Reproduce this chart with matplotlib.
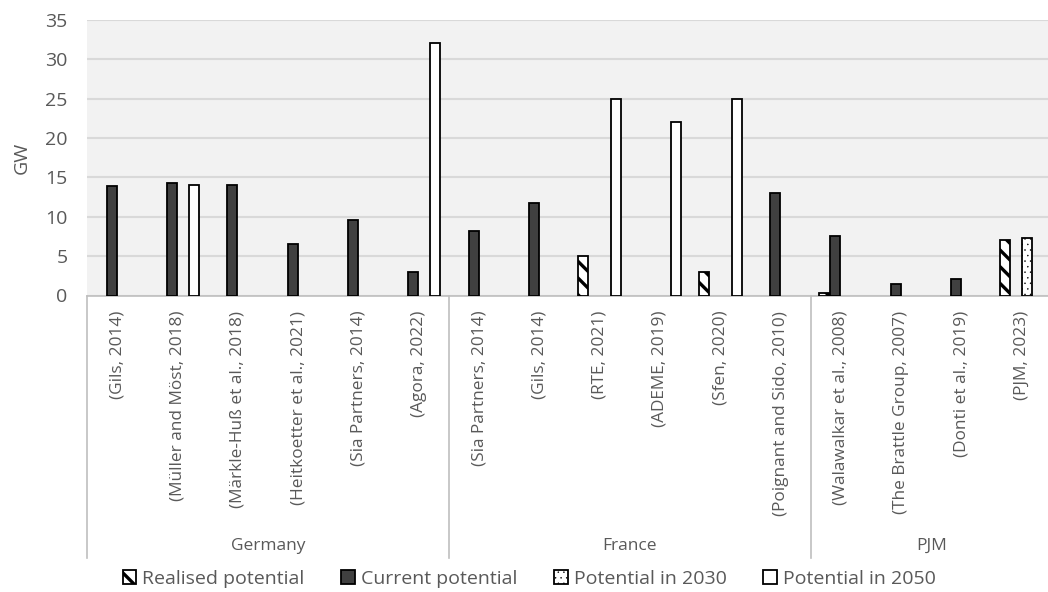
import numpy as np
import matplotlib
matplotlib.use("Agg")
import matplotlib.pyplot as plt
import matplotlib.transforms as mtransforms
from matplotlib.patches import Patch

nan = np.nan
categories = ["(Gils, 2014)", "(Müller and Möst, 2018)", "(Märkle-Huß et al., 2018)",
              "(Heitkoetter et al., 2021)", "(Sia Partners, 2014)", "(Agora, 2022)",
              "(Sia Partners, 2014)", "(Gils, 2014)", "(RTE, 2021)", "(ADEME, 2019)",
              "(Sfen, 2020)", "(Poignant and Sido, 2010)",
              "(Walawalkar et al., 2008)", "(The Brattle Group, 2007)",
              "(Donti et al., 2019)", "(PJM, 2023)"]
groups = ["Germany", "France", "PJM"]
group_sizes = [6, 6, 4]

realised = [nan, nan, nan, nan, nan, nan,
            nan, nan, 5.0, nan, 3.0, nan,
            0.3, nan, nan, 7.0]
current = [13.9, 14.3, 14.0, 6.5, 9.6, 3.0,
           8.2, 11.8, nan, nan, nan, 13.0,
           7.6, 1.4, 2.1, nan]
p2030 = [nan, nan, nan, nan, nan, nan,
         nan, nan, nan, nan, nan, nan,
         nan, nan, nan, 7.3]
p2050 = [nan, 14.0, nan, nan, nan, 32.1,
         nan, nan, 25.0, 22.0, 25.0, nan,
         nan, nan, nan, nan]
series_names = ["Realised potential", "Current potential", "Potential in 2030", "Potential in 2050"]

plt.rcParams['font.family'] = ['Open Sans', 'DejaVu Sans']
plt.rcParams['hatch.linewidth'] = 2.4
TXT = '#595959'

fig = plt.figure(figsize=(10.48, 5.92), dpi=100)
W, H = 1048, 592
ax = fig.add_axes([87 / W, (H - 295.5) / H, 965 / W, 275.5 / H])
ax.set_facecolor('#f2f2f2')

x = np.arange(len(categories))
slot = 0.182
bw = 0.166
styles = [
    dict(facecolor='white', hatch='\\\\'),
    dict(facecolor='#404040'),
    dict(facecolor='white', hatch='...'),
    dict(facecolor='white'),
]
hatch_lw = [2.4, 1.0, 0.3, 1.0]
series = [realised, current, p2030, p2050]
for k, (vals, st) in enumerate(zip(series, styles)):
    bars = ax.bar(x + (k - 1.5) * slot, vals, width=bw, edgecolor='black', linewidth=1.3,
                  zorder=3, label=series_names[k], **st)
    for b in bars:
        if hasattr(b, 'set_hatch_linewidth'):
            b.set_hatch_linewidth(hatch_lw[k])

ax.set_xlim(-0.5, 15.5)
ax.set_ylim(0, 35)
ax.set_yticks(np.arange(0, 36, 5))
ax.yaxis.grid(True, color='#d9d9d9', linewidth=1.5, zorder=0)
ax.set_axisbelow(True)
for s in ['left', 'right', 'top']:
    ax.spines[s].set_visible(False)
ax.spines['bottom'].set_color('#bfbfbf')
ax.spines['bottom'].set_linewidth(1.2)

ax.set_xticks(x)
ax.set_xticklabels(categories, rotation=90, fontsize=12.4, color=TXT, va='top', ha='center')
ax.tick_params(axis='x', length=0, pad=11)
ax.tick_params(axis='y', length=0, pad=14, labelsize=14, labelcolor=TXT)
ax.set_ylabel('GW', fontsize=14, color=TXT, labelpad=10)

trans = mtransforms.blended_transform_factory(ax.transData, ax.transAxes)
edges = np.concatenate([[0], np.cumsum(group_sizes)]) - 0.5
for e in edges:
    ax.plot([e, e], [0, -0.951], transform=trans, color='#bfbfbf', lw=1.2, clip_on=False)
for g, a, b in zip(groups, edges[:-1], edges[1:]):
    ax.text((a + b) / 2, -0.91, g, transform=trans, ha='center', va='center',
            fontsize=12.5, color=TXT)

handles = [Patch(edgecolor='black', linewidth=1.3, label=n, **st) for n, st in zip(series_names, styles)]
leg = fig.legend(handles=handles, loc='center', bbox_to_anchor=(0.505, 0.022), ncol=4,
                 frameon=False, fontsize=14, labelcolor=TXT, handlelength=0.7, handleheight=0.7,
                 handletextpad=0.3, columnspacing=1.9)
for h, lw in zip(leg.legend_handles, hatch_lw):
    if hasattr(h, 'set_hatch_linewidth'):
        h.set_hatch_linewidth(lw)

fig.savefig('out.png', dpi=100)
